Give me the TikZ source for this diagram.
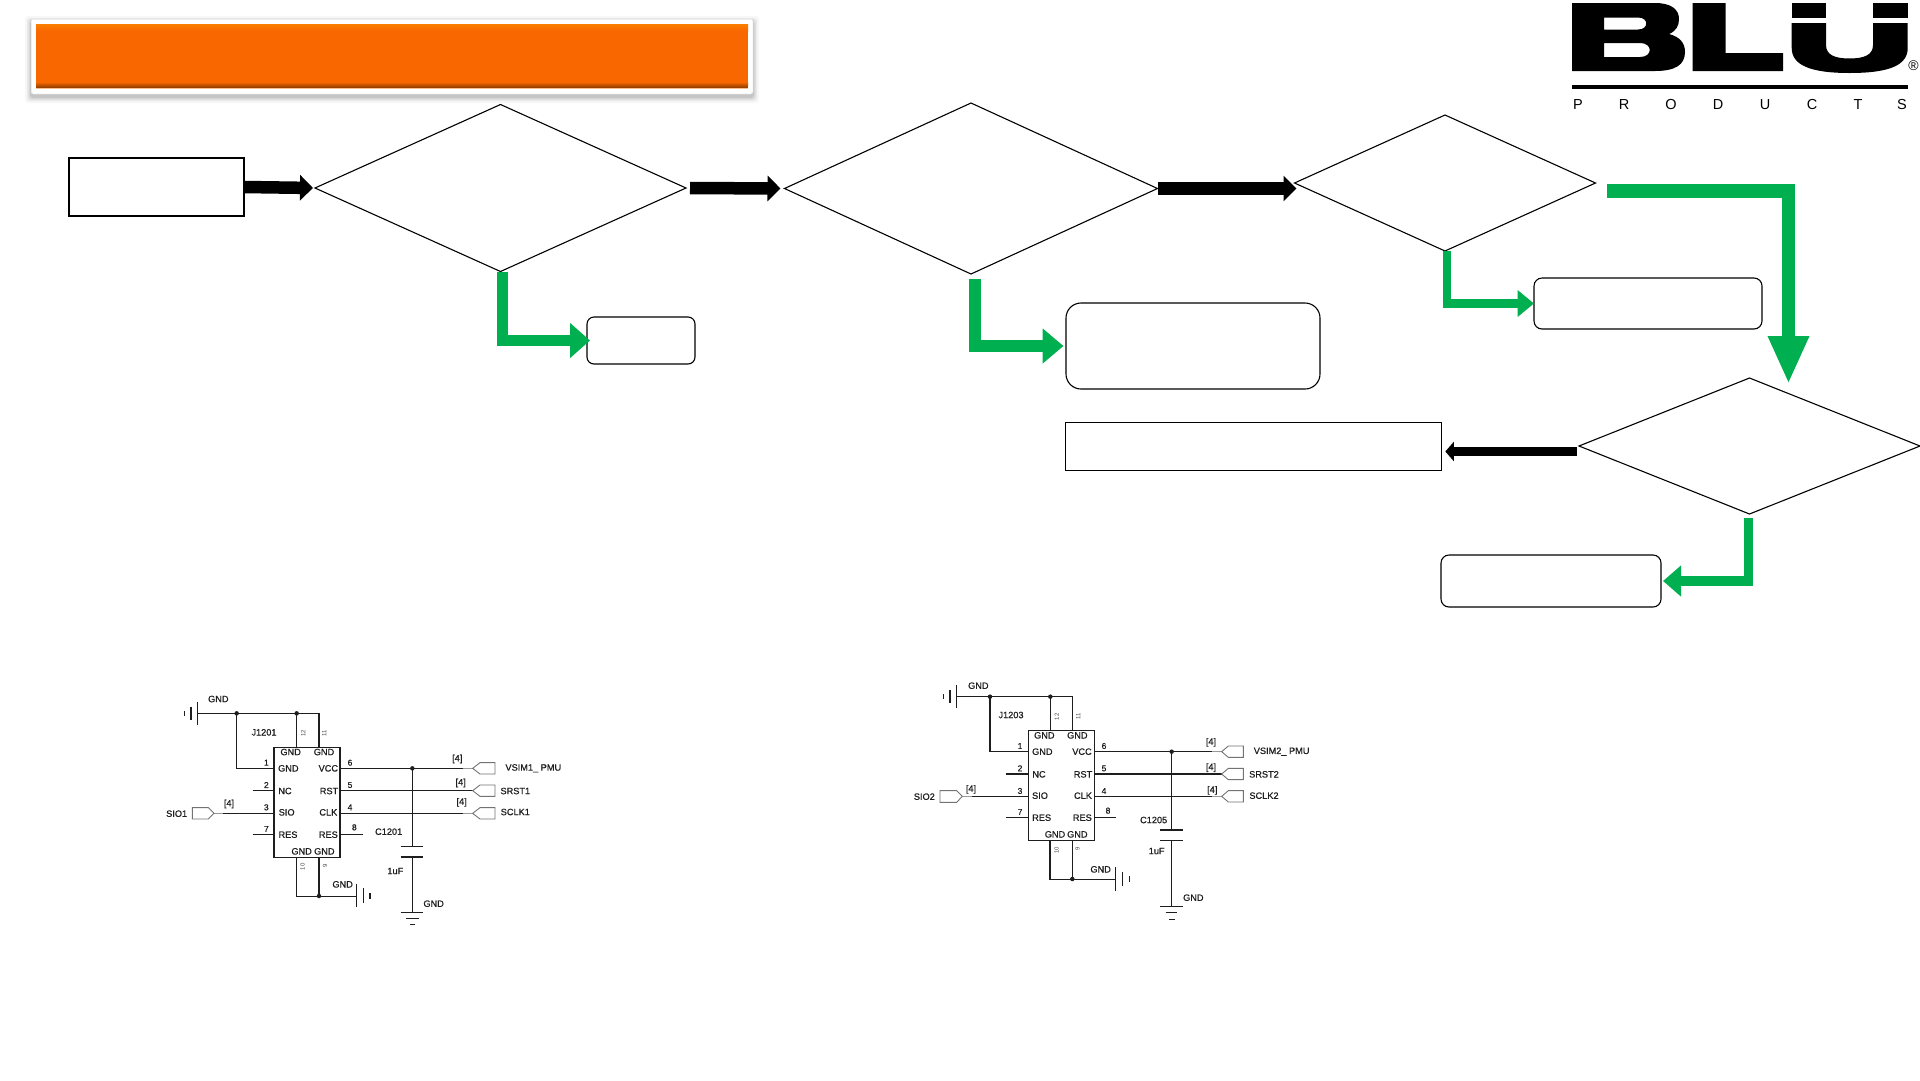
\documentclass[tikz,border=0pt]{standalone}
\usepackage{fontspec}
\setmainfont{Liberation Sans}
\newfontfamily\schfont[FakeBold=0.6]{Liberation Sans}
\usetikzlibrary{arrows.meta,shapes.geometric}
\definecolor{gr}{HTML}{00B050}
\definecolor{org}{HTML}{F96800}
\definecolor{sch}{HTML}{1E1E1E}
\tikzset{
  dia/.style={shape=diamond,draw=black,line width=1.1pt,inner sep=0pt,outer sep=0pt,minimum width=#1},
  plainbox/.style={rectangle,draw=black,inner sep=0pt,outer sep=0pt},
  roundbox/.style={rectangle,rounded corners=#1,draw=black,line width=1.1pt,inner sep=0pt,outer sep=0pt},
  blackarrow/.style={draw=black,line width=#1,-{Triangle[length=13pt,width=25pt]}},
  greenarrow/.style={draw=gr,line width=#1,miter limit=10,line join=miter},
  sl/.style={inner sep=0pt,outer sep=0pt,text=sch,font=\schfont\fontsize{9.2}{10}\selectfont},
  pn/.style={inner sep=0pt,outer sep=0pt,text=sch,font=\schfont\fontsize{8.5}{10}\selectfont},
  tn/.style={inner sep=0pt,outer sep=0pt,text=sch!80,rotate=90,font=\fontsize{6}{6}\selectfont},
  wire/.style={draw=sch,line width=1.05pt},
  stub/.style={draw=gray!80,line width=.9pt},
  tagp/.style={draw=gray!90!black,line width=.9pt,fill=white},
  jdot/.style={circle,fill=sch,inner sep=0pt,outer sep=0pt,minimum size=4.5pt},
  ic/.style={rectangle,draw=sch,line width=1.05pt,inner sep=0pt,outer sep=0pt,minimum width=66pt,minimum height=110pt},
}
\begin{document}
\begin{tikzpicture}[x=1pt,y=-1pt]
\useasboundingbox (0,0) rectangle (1920,1080);
\fill[white] (0,0) rectangle (1920,1080);

% ---------- title bar with soft shadow
\foreach \g/\o in {6/.03,4/.05,2.5/.07,1/.09}
  \fill[black,opacity=\o,rounded corners=3pt] (31-\g,19-\g+3) rectangle (753+\g,94+\g+3);
\fill[white,rounded corners=2pt] (31,19) rectangle (753,94);
\draw[gray!35,line width=.5pt,rounded corners=2pt] (31,19) rectangle (753,94);
\node[rectangle,fill=org,inner sep=0pt,outer sep=0pt,minimum width=712pt,minimum height=65pt] (titlebar) at (392,56.5) {};
\shade[top color=org!85!yellow,bottom color=org] (36,24) rectangle (748,31);
\shade[top color=org,bottom color=org!65!black] (36,82) rectangle (748,86.5);
\fill[org!62!black] (36,86.5) rectangle (748,88);
\fill[org!45!white] (36,88) rectangle (748,89);

% ---------- logo
\fill[black,even odd rule] (1572,3) -- (1655,3) .. controls (1672,3) and (1679,10) .. (1679,19)
  .. controls (1679,26) and (1676,31) .. (1669,34) .. controls (1680,37) and (1685,43) .. (1685,52)
  .. controls (1685,65) and (1675,71) .. (1655,71) -- (1572,71) -- cycle
  (1604,17.5) -- (1638,17.5) .. controls (1649,17.5) and (1649,29.5) .. (1638,29.5) -- (1604,29.5) -- cycle
  (1604,43) -- (1640,43) .. controls (1653,43) and (1653,57) .. (1640,57) -- (1604,57) -- cycle;
\fill[black] (1692.7,3) -- (1725.7,3) -- (1725.7,53) -- (1783,53) -- (1783,71) -- (1692.7,71) -- cycle;
\fill[black] (1791.7,3) rectangle (1826,17.7);
\fill[black] (1873,3) rectangle (1907.7,17.7);
\fill[black] (1791.7,23) -- (1826,23) -- (1826,45) .. controls (1826,55) and (1835,58.5) .. (1849.5,58.5)
  .. controls (1864,58.5) and (1873,55) .. (1873,45) -- (1873,23) -- (1907.7,23) -- (1907.7,48)
  .. controls (1907.7,65) and (1890,73) .. (1849.5,73) .. controls (1810,73) and (1791.7,65) .. (1791.7,48) -- cycle;
\fill[black] (1572,85.3) rectangle (1908,88.7);
\node[inner sep=0pt,font=\fontsize{14}{14}\selectfont] (regmark) at (1913.5,66) {®};
\foreach \x/\t in {1578/P,1624/R,1671/O,1718/D,1765/U,1812/C,1858/T,1902/S}
  \node[inner sep=0pt,font=\fontsize{14.5}{15}\selectfont] (logo\t) at (\x,105) {\t};

% ---------- flow nodes
\node[plainbox,line width=1.6pt,minimum width=175pt,minimum height=58pt] (start) at (156.5,187) {};
\node[dia=371pt,minimum height=167pt,shape aspect=2.22] (d1) at (500.5,188) {};
\node[dia=373pt,minimum height=171pt,shape aspect=2.18] (d2) at (971,188.5) {};
\node[dia=301pt,minimum height=136pt,shape aspect=2.21] (d3) at (1445,183) {};
\node[dia=341pt,minimum height=136pt,shape aspect=2.5] (d4) at (1749.5,446) {};
\node[roundbox=7pt,minimum width=108pt,minimum height=47pt] (box1) at (641,340.5) {};
\node[roundbox=15pt,minimum width=254pt,minimum height=86pt] (box2) at (1193,346) {};
\node[roundbox=8pt,minimum width=228pt,minimum height=51pt] (box3) at (1648,303.5) {};
\node[roundbox=8pt,minimum width=220pt,minimum height=52pt] (box4) at (1551,581) {};
\node[plainbox,line width=.9pt,minimum width=376pt,minimum height=48pt] (wide) at (1253.3,446.3) {};
\coordinate (bigend) at (1788.5,384);

% ---------- block arrows
\draw[blackarrow=12.5pt,shorten >=2pt] (start.east) -- (d1.west);
\draw[blackarrow=12.5pt,shorten <=4pt,shorten >=4pt] (d1.east) -- (d2.west);
\draw[blackarrow=13pt,shorten >=-2pt] (d2.east) -- (d3.west |- d2.east);
\draw[blackarrow=9.5pt,-{Triangle[length=8.5pt,width=19pt]},shorten >=4pt] ([xshift=-2pt,yshift=-5.5pt]d4.west) -- ([yshift=-5.2pt]wide.east);
\draw[greenarrow=11pt,-{Triangle[length=20pt,width=34pt]},shorten >=-3pt] ([xshift=2pt]d1.south) |- (box1.west);
\draw[greenarrow=12pt,-{Triangle[length=21pt,width=34pt]},shorten >=2.5pt] ([xshift=4pt,yshift=-5pt]d2.south) |- (box2.west);
\draw[greenarrow=8.5pt,-{Triangle[length=16.5pt,width=26pt]}] ([xshift=2pt]d3.south) |- (box3.west);
\draw[greenarrow=13.5pt,-{Triangle[length=48pt,width=38pt]}] ([xshift=11pt,yshift=-8pt]d3.east) -| (bigend);
\draw[greenarrow=9.5pt,-{Triangle[length=18pt,width=30pt]},shorten >=2pt] ([xshift=-1pt,yshift=-4pt]d4.south) |- (box4.east);

% ---------- schematic J1201
\begin{scope}[shift={(150,670)},x=.33333pt,y=-.33333pt]
  \node[ic] (j1) at (471,396.5) {};
  \draw[wire] (143,130) -- (507,130) -- (507,232);
  \draw[wire] (260,130) -- (260,295) -- (372,295);
  \draw[wire] (440,130) -- (440,232);
  \draw[wire] (143,95) -- (143,165) (123,110) -- (123,150) (103,122) -- (103,137);
  \node[jdot] (j1a) at (260,130) {}; \node[jdot] (j1b) at (440,130) {};
  \draw[wire] (308,362) -- (372,362) (220,430) -- (372,430) (308,493) -- (372,493);
  \draw[wire] (570,295) -- (938,295) (570,362) -- (970,362) (570,430) -- (938,430) (570,493) -- (640,493);
  \draw[stub] (938,295) -- (968,295) (938,430) -- (968,430) (192,430) -- (220,430);
  \foreach \y in {295,362,430}
    \draw[tagp] (968,\y) -- (990,\y-17) -- (1035,\y-17) -- (1035,\y+17) -- (990,\y+17) -- cycle;
  \draw[tagp] (127,413) -- (175,413) -- (192,430) -- (175,447) -- (127,447) -- cycle;
  \draw[wire] (787,295) -- (787,530) (787,561) -- (787,727);
  \draw[wire] (752,530) -- (820,530) (752,561) -- (820,561);
  \draw[wire] (752,727) -- (820,727) (768,745) -- (806,745) (780,763) -- (796,763);
  \node[jdot] (j1c) at (787,295) {};
  \draw[wire] (440,561) -- (440,680) -- (620,680) (507,561) -- (507,680);
  \draw[wire] (620,642) -- (620,712) (640,655) -- (640,700) (660,668) -- (660,688);
  \node[jdot] (j1d) at (507,678) {};
  \foreach \x/\y/\t in {205/87/GND,342/187/J1201,422/246/GND,522/246/GND,415/295/GND,405/363/NC,410/427/SIO,414/494/RES,535/295/VCC,537/363/RST,535/427/CLK,535/494/RES,455/544/GND,523/544/GND,1150/295/VSIM1\_ PMU,1096/363/SRST1,1096/426/SCLK1,80/431/SIO1,716/485/C1201,736/603/1uF,851/701/GND,578/643/GND,922/267/[4],932/339/[4],935/397/[4],237/402/[4]}
    \node[sl] (sa\x-\y) at (\x,\y) {\t};
  \foreach \x/\y/\t in {349/278/1,349/345/2,349/412/3,349/477/7,600/278/6,600/345/5,600/412/4,613/472/8}
    \node[pn] (pa\x-\y) at (\x,\y) {\t};
  \foreach \x/\y/\t in {460/190/12,523/190/11,458/590/10,525/587/9}
    \node[tn] (ta\x-\y) at (\x,\y) {\t};
\end{scope}

% ---------- schematic J1203
\begin{scope}[shift={(900,660)},x=.33333pt,y=-.33333pt]
  \node[ic] (j2) at (485,376) {};
  \draw[wire] (170,110) -- (517,110) -- (517,211);
  \draw[wire] (270,110) -- (270,275) -- (386,275);
  \draw[wire] (451,110) -- (451,211);
  \draw[wire] (170,75) -- (170,145) (150,90) -- (150,130) (130,103) -- (130,118);
  \node[jdot] (j2a) at (270,110) {}; \node[jdot] (j2b) at (451,110) {};
  \draw[wire] (317,342) -- (386,342) (215,409) -- (386,409) (317,472) -- (386,472);
  \draw[wire] (584,275) -- (935,275) (584,342) -- (965,342) (584,409) -- (935,409) (584,472) -- (648,472);
  \draw[stub] (935,275) -- (965,275) (935,409) -- (965,409) (187,409) -- (215,409);
  \foreach \y in {275,342,409}
    \draw[tagp] (965,\y) -- (985,\y-17) -- (1030,\y-17) -- (1030,\y+17) -- (985,\y+17) -- cycle;
  \draw[tagp] (120,392) -- (170,392) -- (187,409) -- (170,427) -- (120,427) -- cycle;
  \draw[wire] (815,275) -- (815,510) (815,541) -- (815,740);
  \draw[wire] (780,510) -- (848,510) (780,541) -- (848,541);
  \draw[wire] (780,740) -- (848,740) (797,758) -- (832,758) (808,778) -- (824,778);
  \node[jdot] (j2c) at (815,275) {};
  \draw[wire] (450,541) -- (450,658) -- (647,658) (517,541) -- (517,658);
  \draw[wire] (647,622) -- (647,692) (667,637) -- (667,678) (688,648) -- (688,665);
  \node[jdot] (j2d) at (517,657) {};
  \foreach \x/\y/\t in {235/77/GND,333/165/J1203,433/226/GND,532/226/GND,427/275/GND,417/343/NC,420/407/SIO,425/473/RES,546/275/VCC,549/343/RST,549/407/CLK,547/473/RES,465/523/GND,532/523/GND,1145/275/VSIM2\_ PMU,1092/343/SRST2,1092/407/SCLK2,73/410/SIO2,761/480/C1205,770/573/1uF,880/713/GND,602/628/GND,933/247/[4],933/323/[4],937/391/[4],213/388/[4]}
    \node[sl] (sb\x-\y) at (\x,\y) {\t};
  \foreach \x/\y/\t in {360/258/1,360/325/2,360/393/3,360/456/7,612/258/6,612/325/5,612/393/4,624/452/8}
    \node[pn] (pb\x-\y) at (\x,\y) {\t};
  \foreach \x/\y/\t in {470/170/12,535/170/11,470/570/10,533/567/9}
    \node[tn] (tb\x-\y) at (\x,\y) {\t};
\end{scope}
\end{tikzpicture}
\end{document}
